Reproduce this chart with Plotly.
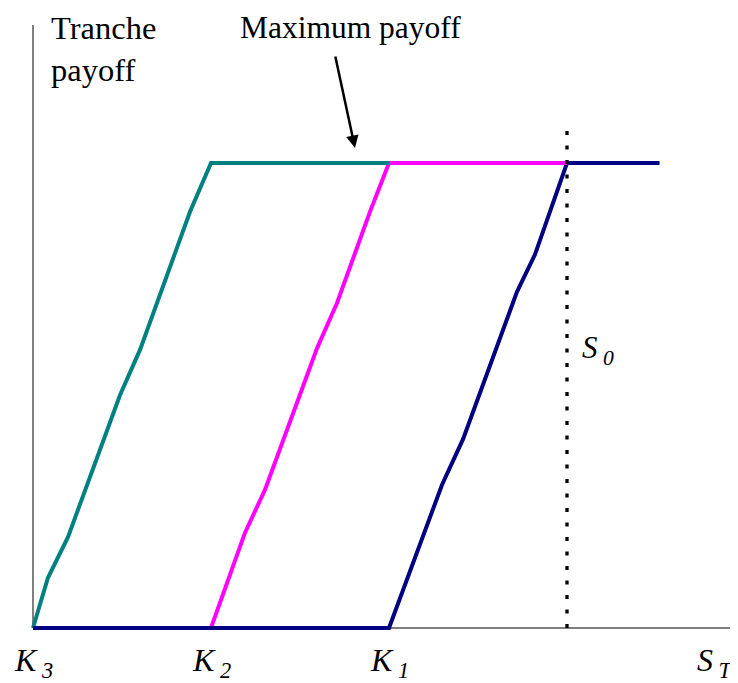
import plotly.graph_objects as go

# ---- data (x in strike units: K3=0, K2=1, K1=2, S0=3; y = payoff fraction of max) ----
teal_x = [0.0, 0.084, 0.197, 0.489, 0.601, 0.882, 1.0, 2.0]
teal_y = [0.0, 0.108, 0.196, 0.501, 0.598, 0.895, 1.0, 1.0]

mag_x = [0.0, 1.0, 1.19, 1.303, 1.596, 1.708, 1.893, 2.0, 3.0]
mag_y = [0.0, 0.0, 0.204, 0.297, 0.602, 0.699, 0.895, 1.0, 1.0]

navy_x = [0.0, 2.0, 2.298, 2.416, 2.719, 2.82, 3.0, 3.52]
navy_y = [0.0, 0.0, 0.308, 0.406, 0.723, 0.803, 1.0, 1.0]

s0_x = [3.0, 3.0]
s0_y = [0.0, 1.086]

tick_vals = [0.0, 1.0, 2.0, 3.83]
tick_text = ["<i>K</i><sub> <i>3</i></sub>", "<i>K</i><sub> <i>2</i></sub>",
             "<i>K</i><sub> <i>1</i></sub>", "<i>S</i><sub> <i>T</i></sub>"]

# ---- geometry (screen pixels; page body has an 8px margin) ----
W, H = 738, 683
OFF = 8
X0PX, Y0PX = 33, 628
PPX, PPY = 178.0, 465.0

def dx(px):
    return (px - X0PX) / PPX

def dy(py):
    return (Y0PX - py) / PPY

FONT = "Liberation Serif"

fig = go.Figure()
fig.add_trace(go.Scatter(x=navy_x, y=navy_y, mode="lines",
                         line=dict(color="#000080", width=4), hoverinfo="skip"))
fig.add_trace(go.Scatter(x=mag_x, y=mag_y, mode="lines",
                         line=dict(color="#FF00FF", width=4), hoverinfo="skip"))
fig.add_trace(go.Scatter(x=teal_x, y=teal_y, mode="lines",
                         line=dict(color="#008080", width=4), hoverinfo="skip"))
fig.add_trace(go.Scatter(x=navy_x[:2], y=navy_y[:2], mode="lines",
                         line=dict(color="#000080", width=4), hoverinfo="skip"))
fig.add_trace(go.Scatter(x=s0_x, y=s0_y, mode="lines",
                         line=dict(color="black", width=3.3, dash="4px,10.5px"),
                         hoverinfo="skip"))

# axes lines
fig.add_shape(type="line", x0=0, x1=0, y0=0, y1=dy(25), xref="x", yref="y",
              line=dict(color="#808080", width=2), layer="below")
fig.add_shape(type="line", x0=0, x1=dx(W), y0=0, y1=0, xref="x", yref="y",
              line=dict(color="#808080", width=2), layer="below")

ann = []
for v, t in zip(tick_vals, tick_text):
    ann.append(dict(x=v, y=dy(662), text=t, showarrow=False, xanchor="center",
                    yanchor="middle", font=dict(family=FONT, size=32, color="black")))
ann.append(dict(x=dx(598), y=dy(350), text="<i>S</i><sub> <i>0</i></sub>", showarrow=False,
                xanchor="center", yanchor="middle",
                font=dict(family=FONT, size=31, color="black")))
ann.append(dict(x=dx(50), y=dy(8.5), text="Tranche<br>payoff", showarrow=False,
                xanchor="left", yanchor="top", align="left", borderpad=0,
                font=dict(family=FONT, size=32.5, color="black")))
ann.append(dict(x=dx(350), y=dy(8.5), text="Maximum payoff", showarrow=False,
                xanchor="center", yanchor="top", borderpad=0,
                font=dict(family=FONT, size=31.5, color="black")))
ann.append(dict(x=dx(355), y=dy(148), ax=-20, ay=-93, text="", showarrow=True,
                arrowhead=2, arrowsize=1, arrowwidth=2.5, arrowcolor="black"))

fig.update_layout(
    width=W, height=H,
    margin=dict(l=0, r=0, t=0, b=0),
    paper_bgcolor="white", plot_bgcolor="white",
    showlegend=False,
    annotations=ann,
    xaxis=dict(range=[dx(OFF), dx(W + OFF)], visible=False, fixedrange=True),
    yaxis=dict(range=[dy(H + OFF), dy(OFF)], visible=False, fixedrange=True),
)

fig.write_html("out.html")
